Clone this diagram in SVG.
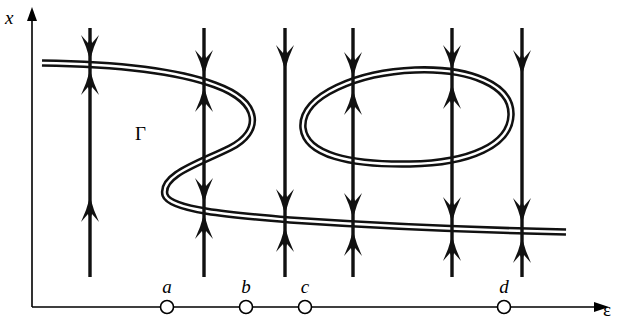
<svg xmlns="http://www.w3.org/2000/svg" width="618" height="322" viewBox="0 0 618 322">
<style>
.ax{stroke:#000;stroke-width:1.6;fill:none}
.vl{stroke:#111;stroke-width:3.4;fill:none}
.dblo{stroke:#111;stroke-width:7.5;fill:none}
.dbli{stroke:#fff;stroke-width:2.4;fill:none}
.pt{fill:#fff;stroke:#000;stroke-width:1.6}
.lbl{font-family:"Liberation Serif",serif;font-style:italic;font-size:19px;fill:#000}
.up{font-family:"Liberation Serif",serif;font-size:19px;fill:#000}
.ah{fill:#111}
</style>
<defs>
<path id="dn" d="M0,0 L-4,-13 L-9,-25 L-2,-17 L0,-22 L2,-17 L9,-25 L4,-13 Z"/>
</defs>
<rect width="618" height="322" fill="#fff"/>
<g id="axes">
<path class="ax" d="M32,307 V16 M32,307 H596"/>
<path d="M32,7 L27,21 L37,21 Z" fill="#000"/>
<path d="M609,307 L594,302 L594,312 Z" fill="#000"/>
<text class="lbl" x="5" y="24" font-size="20">x</text>
<text class="up" x="603" y="316">ε</text>
</g>
<g id="curve">
<path class="dblo" d="M42,63 C120,64 180,72 215,85 C262,102 262,132 230,148 C200,163 160,175 165,195 C170,210 230,215 290,220 C380,226 470,230 566,232"/>
<path class="dbli" d="M42,63 C120,64 180,72 215,85 C262,102 262,132 230,148 C200,163 160,175 165,195 C170,210 230,215 290,220 C380,226 470,230 566,232"/>
<path class="dblo" d="M303,128 C300,95 360,72 415,70 C470,68 512,85 511,115 C510,145 470,163 410,164 C350,165 306,155 303,128 Z"/>
<path class="dbli" d="M303,128 C300,95 360,72 415,70 C470,68 512,85 511,115 C510,145 470,163 410,164 C350,165 306,155 303,128 Z"/>
<text class="up" x="135" y="140">Γ</text>
</g>
<g id="connectors">
<path class="vl" d="M90,28 V277 M204,28 V277 M285,28 V277 M353,28 V277 M452,28 V277 M522,28 V277"/>
<g class="ah">
<use href="#dn" transform="translate(90,60)"/>
<use href="#dn" transform="translate(90,70) scale(1,-1)"/>
<use href="#dn" transform="translate(90,197) scale(1,-1)"/>
<use href="#dn" transform="translate(204,75)"/>
<use href="#dn" transform="translate(204,87) scale(1,-1)"/>
<use href="#dn" transform="translate(204,203)"/>
<use href="#dn" transform="translate(204,214) scale(1,-1)"/>
<use href="#dn" transform="translate(285,70)"/>
<use href="#dn" transform="translate(285,214)"/>
<use href="#dn" transform="translate(285,227) scale(1,-1)"/>
<use href="#dn" transform="translate(353,77)"/>
<use href="#dn" transform="translate(353,90) scale(1,-1)"/>
<use href="#dn" transform="translate(353,218)"/>
<use href="#dn" transform="translate(353,231) scale(1,-1)"/>
<use href="#dn" transform="translate(452,70)"/>
<use href="#dn" transform="translate(452,84) scale(1,-1)"/>
<use href="#dn" transform="translate(452,222)"/>
<use href="#dn" transform="translate(452,236) scale(1,-1)"/>
<use href="#dn" transform="translate(522,75)"/>
<use href="#dn" transform="translate(522,223)"/>
<use href="#dn" transform="translate(522,238) scale(1,-1)"/>
</g>
</g>
<g id="pa"><circle class="pt" cx="167" cy="307" r="6.5"/><text class="lbl" x="167" y="293" text-anchor="middle">a</text></g>
<g id="pb"><circle class="pt" cx="246" cy="307" r="6.5"/><text class="lbl" x="246" y="293" text-anchor="middle">b</text></g>
<g id="pc"><circle class="pt" cx="305" cy="307" r="6.5"/><text class="lbl" x="305" y="293" text-anchor="middle">c</text></g>
<g id="pd"><circle class="pt" cx="504" cy="307" r="6.5"/><text class="lbl" x="504" y="293" text-anchor="middle">d</text></g>
</svg>
